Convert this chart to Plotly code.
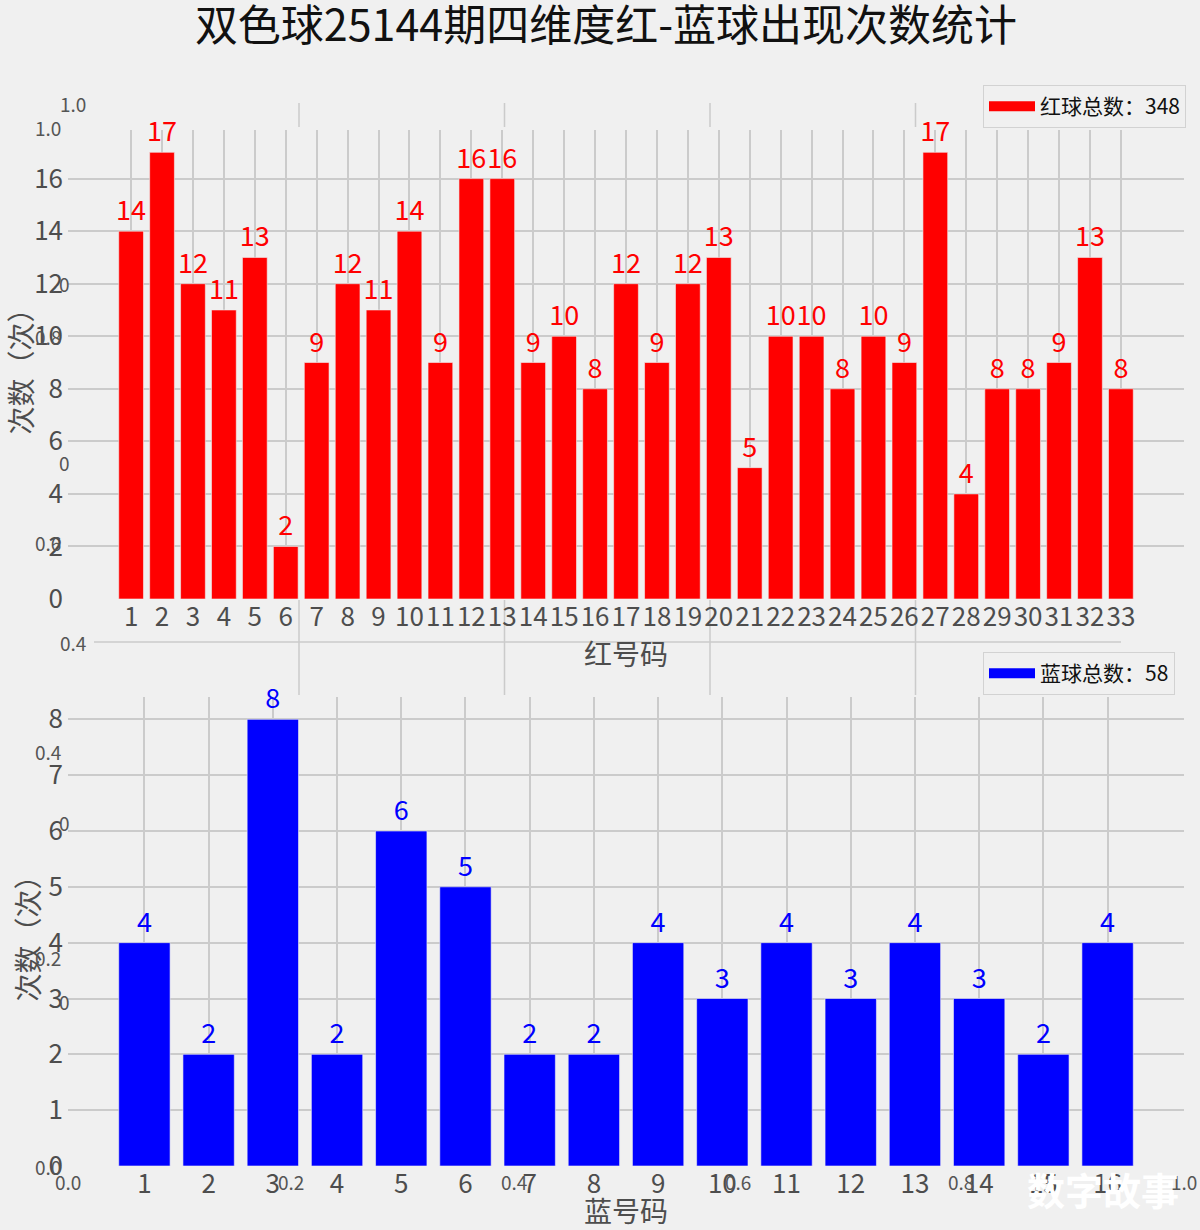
import plotly.graph_objects as go

# ---------------- data ----------------
red_numbers = list(range(1, 34))
red_counts = [14, 17, 12, 11, 13, 2, 9, 12, 11, 14, 9, 16, 16, 9, 10, 8, 12,
              9, 12, 13, 5, 10, 10, 8, 10, 9, 17, 4, 8, 8, 9, 13, 8]
blue_numbers = list(range(1, 17))
blue_counts = [4, 2, 8, 2, 6, 5, 2, 2, 4, 3, 4, 3, 4, 3, 2, 4]

title_text = "双色球25144期四维度红-蓝球出现次数统计"
red_legend = "红球总数：%d" % sum(red_counts)
blue_legend = "蓝球总数：%d" % sum(blue_counts)
red_xlabel = "红号码"
blue_xlabel = "蓝号码"
ylabel = "次数（次）"
watermark = "数字故事"
frac_labels = ["0.0", "0.2", "0.4", "0.6", "0.8", "1.0"]

W, H = 1200, 1230
FONT = "Noto Sans CJK SC"
BG = "#f0f0f0"
GRID = "#cbcbcb"
TICK = "#4d4d4d"


def px(x):
    return x / W


def py(y):
    return 1 - y / H


fig = go.Figure()

fig.add_trace(go.Bar(
    x=red_numbers, y=red_counts, width=0.8,
    marker=dict(color="#ff0000", line=dict(color=BG, width=0.6)),
    text=red_counts, textposition="outside", cliponaxis=False,
    constraintext="none",
    textfont=dict(family=FONT, size=27, color="#ff0000"),
    xaxis="x", yaxis="y", showlegend=False, hoverinfo="x+y"))

fig.add_trace(go.Bar(
    x=blue_numbers, y=blue_counts, width=0.8,
    marker=dict(color="#0000ff", line=dict(color=BG, width=0.6)),
    text=blue_counts, textposition="outside", cliponaxis=False,
    constraintext="none",
    textfont=dict(family=FONT, size=27, color="#0000ff"),
    xaxis="x2", yaxis="y2", showlegend=False, hoverinfo="x+y"))

# legend entries (patch look)
fig.add_trace(go.Scatter(x=[None], y=[None], mode="lines", name=red_legend,
                         line=dict(color="#ff0000", width=16),
                         xaxis="x", yaxis="y", legend="legend"))
fig.add_trace(go.Scatter(x=[None], y=[None], mode="lines", name=blue_legend,
                         line=dict(color="#0000ff", width=16),
                         xaxis="x2", yaxis="y2", legend="legend2"))

axis_common = dict(showgrid=True, gridcolor=GRID, gridwidth=1.5, zeroline=False,
                   showline=False, ticks="", automargin=False,
                   tickfont=dict(family=FONT, size=26, color=TICK))

fig.update_layout(
    width=W, height=H,
    margin=dict(l=0, r=0, t=0, b=0, autoexpand=False),
    paper_bgcolor=BG, plot_bgcolor=BG,
    font=dict(family=FONT, color=TICK),
    title=dict(text=title_text, x=px(606), xanchor="center", y=py(26), yanchor="middle",
               automargin=False,
               font=dict(family=FONT, size=43, color="#111111")),
    bargap=0.2,
    xaxis=dict(domain=[px(68), px(1184)], range=[-1.04, 35.04], anchor="y",
               tickmode="array", tickvals=red_numbers, ticktext=[str(v) for v in red_numbers],
               ticklabelstandoff=0,
               title=dict(text=red_xlabel, font=dict(family=FONT, size=28, color=TICK), standoff=0),
               **axis_common),
    yaxis=dict(domain=[py(599), py(130)], range=[0, 17.85], anchor="x",
               tickmode="linear", tick0=0, dtick=2, ticklabelstandoff=4,
               title=dict(text=ylabel, font=dict(family=FONT, size=28, color=TICK), standoff=4),
               **axis_common),
    xaxis2=dict(domain=[px(68), px(1184)], range=[-0.19, 17.19], anchor="y2",
                tickmode="array", tickvals=blue_numbers, ticktext=[str(v) for v in blue_numbers],
                ticklabelstandoff=0,
                title=dict(text=blue_xlabel, font=dict(family=FONT, size=28, color=TICK), standoff=0),
                **axis_common),
    yaxis2=dict(domain=[py(1166), py(697)], range=[0, 8.4], anchor="x2",
                tickmode="linear", tick0=0, dtick=1, ticklabelstandoff=4,
                title=dict(text=ylabel, font=dict(family=FONT, size=28, color=TICK), standoff=0),
                **axis_common),
    legend=dict(x=px(1186), xanchor="right", y=py(85), yanchor="top",
                bgcolor=BG, bordercolor="#d2d2d2", borderwidth=1, itemwidth=46,
                font=dict(family=FONT, size=21, color="#111111")),
    legend2=dict(x=px(1175), xanchor="right", y=py(652), yanchor="top",
                 bgcolor=BG, bordercolor="#d2d2d2", borderwidth=1, itemwidth=46,
                 font=dict(family=FONT, size=21, color="#111111")),
)

# ---- residue of background axes (decoration) ----
shapes = []
for gx in [299, 504.5, 710, 915.5]:
    shapes.append(dict(type="line", xref="paper", yref="paper",
                       x0=px(gx), x1=px(gx), y0=py(103), y1=py(127),
                       line=dict(color=GRID, width=1.5), layer="below"))
    shapes.append(dict(type="line", xref="paper", yref="paper",
                       x0=px(gx), x1=px(gx), y0=py(600), y1=py(695),
                       line=dict(color=GRID, width=1.5), layer="below"))
shapes.append(dict(type="line", xref="paper", yref="paper",
                   x0=px(94), x1=px(1121), y0=py(642), y1=py(642),
                   line=dict(color=GRID, width=1.5), layer="below"))
fig.update_layout(shapes=shapes)

small = dict(family=FONT, size=19, color="#555555")
ann = []
# axes B labels
ann.append(dict(text=frac_labels[5], x=px(88), y=py(103), xanchor="right", yanchor="middle"))
ann.append(dict(text=frac_labels[2], x=px(88), y=py(642), xanchor="right", yanchor="middle"))
for yy in [283, 462, 822, 1001]:
    ann.append(dict(text="0", x=px(57), y=py(yy), xanchor="left", yanchor="middle"))
# axes A labels
for lab, yy in zip(frac_labels, [1166, 958, 751, 543, 336, 128]):
    ann.append(dict(text=lab, x=px(63), y=py(yy), xanchor="right", yanchor="middle"))
for lab, xx in zip(frac_labels, [68, 291, 514, 738, 961, 1184]):
    ann.append(dict(text=lab, x=px(xx), y=py(1181), xanchor="center", yanchor="middle"))
for a in ann:
    a.update(xref="paper", yref="paper", showarrow=False, font=small)
# watermark
ann.append(dict(text=watermark, x=px(1103), y=py(1188), xref="paper", yref="paper",
                xanchor="center", yanchor="middle", showarrow=False,
                font=dict(family=FONT, size=38, color="#ffffff", weight="bold")))
fig.update_layout(annotations=ann)

fig.write_html("out.html", config={"displayModeBar": False},
               post_script="document.body.style.margin='0px';document.body.style.padding='0px';")
